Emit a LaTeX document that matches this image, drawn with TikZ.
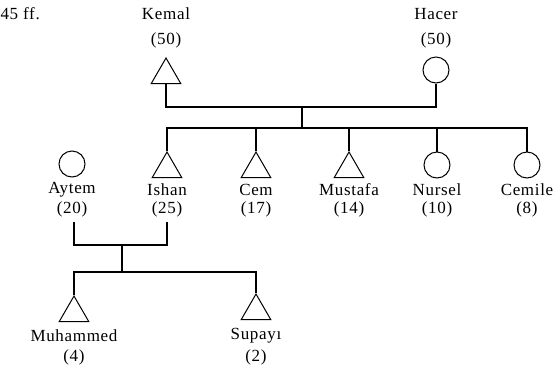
\documentclass[tikz,border=0pt]{standalone}
\usepackage{fontspec}
\setmainfont{Liberation Serif}[LetterSpace=4]
\usetikzlibrary{shapes.geometric}
\begin{document}
\begin{tikzpicture}[x=1pt,y=-1pt,
  line width=1.1pt,
  male/.style={draw,regular polygon,regular polygon sides=3,minimum size=34pt,inner sep=0pt,line width=1pt},
  female/.style={draw,circle,minimum size=26pt,inner sep=0pt,line width=1pt},
  lbl/.style={inner sep=0pt,font=\fontsize{17}{20}\selectfont}]
\useasboundingbox (0,0) rectangle (560,368);

\node[lbl,anchor=west] (ref) at (0,14) {45 ff.};

% parents
\node[male]   (kemal) at (166,75) {};
\node[lbl] (kemalN) at (166,14) {Kemal};
\node[lbl] (kemalA) at (166,40) {(50)};
\node[female] (hacer) at (436,70) {};
\node[lbl] (hacerN) at (436,14) {Hacer};
\node[lbl] (hacerA) at (436,40) {(50)};

\coordinate (wed1) at (302,107);
\coordinate (sib1) at (302,128);
\draw (kemal.south) |- (wed1) -| (hacer.south);
\draw (wed1) -- (sib1);

% children
\node[female] (aytem) at (72,164) {};
\node[male]   (ishan) at (167,169) {};
\node[male]   (cem) at (256,169) {};
\node[male]   (mustafa) at (349,169) {};
\node[female] (nursel) at (437,165) {};
\node[female] (cemile) at (527,165) {};

\foreach \p/\n/\a/\x in {aytem/Aytem/(20)/72, ishan/Ishan/(25)/167, cem/Cem/(17)/256,
    mustafa/Mustafa/(14)/349, nursel/Nursel/(10)/437, cemile/Cemile/(8)/527}{
  \node[lbl] (\p N) at (\x,190) {\n};
  \node[lbl] (\p A) at (\x,209) {\a};
}

\foreach \c in {ishan,cem,mustafa}
  \draw (sib1) -| (\c.north);
\foreach \c in {nursel,cemile}
  \draw (sib1) -| (\c.north);

% second generation
\coordinate (aytemB) at (74,222);
\coordinate (ishanB) at (167,222);
\coordinate (wed2) at (122,245);
\coordinate (sib2) at (122,272);
\draw (aytemB) |- (wed2) -| (ishanB);
\draw (wed2) -- (sib2);

\node[male] (muhammed) at (74,313) {};
\node[male] (supayi) at (256,311) {};
\node[lbl] (muhammedN) at (74,336) {Muhammed};
\node[lbl] (muhammedA) at (74,357) {(4)};
\node[lbl] (supayiN) at (256,336) {Supayı};
\node[lbl] (supayiA) at (256,357) {(2)};

\draw (sib2) -| (muhammed.north);
\draw (sib2) -| (supayi.north);
\end{tikzpicture}
\end{document}
